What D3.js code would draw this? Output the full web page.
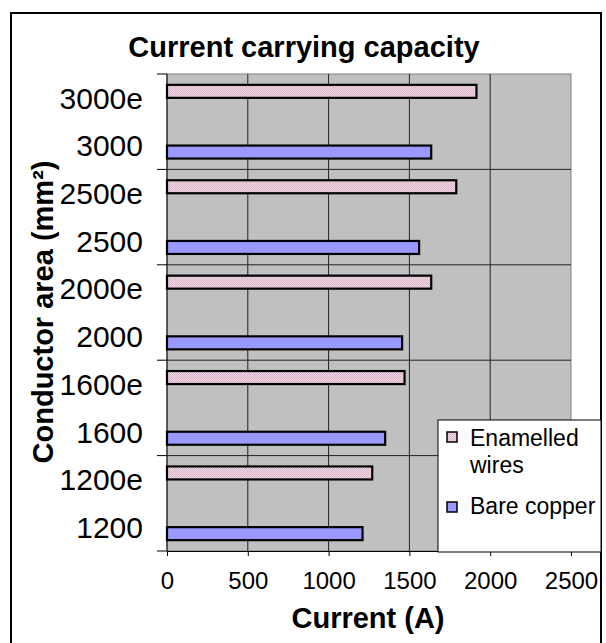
<!DOCTYPE html>
<html>
<head>
<meta charset="utf-8">
<script src="https://cdn.jsdelivr.net/npm/d3@7"></script>
<style>
  html, body { margin: 0; padding: 0; background: #fff; }
  svg { display: block; font-family: "Liberation Sans", Arial, sans-serif; }
</style>
</head>
<body>
<svg id="chart" width="606" height="643"></svg>
<script>
// Conductor sizes, bottom to top; "e" rows are enamelled-wire conductors
const categories = ["1200", "1200e", "1600", "1600e", "2000", "2000e", "2500", "2500e", "3000", "3000e"];
const bareCopper = [1210, null, 1350, null, 1455, null, 1560, null, 1635, null];
const enamelled  = [null, 1270, null, 1470, null, 1635, null, 1790, null, 1915];
const seriesNames = ["Enamelled wires", "Bare copper"];
const xTicks = [0, 500, 1000, 1500, 2000, 2500];

const svg = d3.select("#chart");
const plot = { left: 167, right: 571, top: 74, bottom: 551 };

// pink stipple fill for the enamelled bars
const defs = svg.append("defs");
const pat = defs.append("pattern").attr("id", "pinkDots")
  .attr("patternUnits", "userSpaceOnUse").attr("width", 2).attr("height", 2);
pat.append("rect").attr("width", 2).attr("height", 2).attr("fill", "#f2d9e6");
pat.append("rect").attr("width", 1).attr("height", 1).attr("fill", "#d9b3c8");
pat.append("rect").attr("x", 1).attr("y", 1).attr("width", 1).attr("height", 1).attr("fill", "#d9b3c8");

// outer chart frame
svg.append("rect").attr("x", 11).attr("y", 13).attr("width", 590).attr("height", 640)
  .attr("fill", "#fff").attr("stroke", "#000").attr("stroke-width", 2);

const x = d3.scaleLinear().domain([0, 2500]).range([plot.left, plot.right]);
const y = d3.scaleBand().domain(categories).range([plot.bottom, plot.top]);
const inner = d3.scaleBand().domain(seriesNames).range([0, y.bandwidth()]).paddingOuter(0.835);

// plot background
svg.append("rect").attr("x", plot.left).attr("y", plot.top)
  .attr("width", plot.right - plot.left).attr("height", plot.bottom - plot.top)
  .attr("fill", "#c0c0c0").attr("stroke", "#808080").attr("stroke-width", 1);

// vertical gridlines
svg.append("g").selectAll("line").data(xTicks.slice(1, -1)).join("line")
  .attr("x1", d => x(d)).attr("x2", d => x(d))
  .attr("y1", plot.top).attr("y2", plot.bottom)
  .attr("stroke", "#222").attr("stroke-width", 1);

// horizontal lines between pairs of categories
const groupEdges = categories.filter((d, i) => i % 2 === 0).map(d => y(d) + y.bandwidth());
svg.append("g").selectAll("line").data(groupEdges.filter(v => v > plot.top + 1 && v < plot.bottom - 1)).join("line")
  .attr("x1", plot.left).attr("x2", plot.right)
  .attr("y1", d => d).attr("y2", d => d)
  .attr("stroke", "#222").attr("stroke-width", 1);

// bars
const rows = categories.map((c, i) => ({ c, bare: bareCopper[i], enam: enamelled[i] }));
const barG = svg.append("g");
barG.selectAll("rect.enam").data(rows.filter(r => r.enam != null)).join("rect")
  .attr("class", "enam")
  .attr("x", x(0)).attr("y", d => y(d.c) + inner(seriesNames[0]))
  .attr("width", d => x(d.enam) - x(0)).attr("height", inner.bandwidth())
  .attr("fill", "url(#pinkDots)").attr("stroke", "#000").attr("stroke-width", 2.2);
barG.selectAll("rect.bare").data(rows.filter(r => r.bare != null)).join("rect")
  .attr("class", "bare")
  .attr("x", x(0)).attr("y", d => y(d.c) + inner(seriesNames[1]))
  .attr("width", d => x(d.bare) - x(0)).attr("height", inner.bandwidth())
  .attr("fill", "#9999ff").attr("stroke", "#000").attr("stroke-width", 2.2);

// category axis
const yAxisG = svg.append("g");
yAxisG.append("line").attr("x1", plot.left).attr("x2", plot.left)
  .attr("y1", plot.top).attr("y2", plot.bottom).attr("stroke", "#000");
const tickYs = [plot.top].concat(groupEdges);
yAxisG.selectAll("line.tk").data(tickYs).join("line").attr("class", "tk")
  .attr("x1", plot.left - 10).attr("x2", plot.left)
  .attr("y1", d => d).attr("y2", d => d).attr("stroke", "#000");
yAxisG.selectAll("text").data(categories).join("text")
  .attr("x", 143).attr("y", d => y(d) + y.bandwidth() / 2)
  .attr("dy", "0.36em").attr("text-anchor", "end")
  .attr("font-size", 30).attr("fill", "#000").text(d => d);

// value axis
const xAxis = d3.axisBottom(x).tickValues(xTicks).tickFormat(d3.format("d"))
  .tickSize(5).tickPadding(16).tickSizeOuter(0);
const xAxisG = svg.append("g").attr("transform", `translate(0,${plot.bottom})`).call(xAxis);
xAxisG.select(".domain").attr("stroke", "#000");
xAxisG.selectAll(".tick line").attr("stroke", "#000");
xAxisG.selectAll(".tick text").attr("font-size", 24).attr("fill", "#000")
  .attr("font-family", "'Liberation Sans', Arial, sans-serif");

// titles
svg.append("text").attr("x", 304).attr("y", 57).attr("text-anchor", "middle")
  .attr("font-size", 29).attr("font-weight", "bold").text("Current carrying capacity");
svg.append("text").attr("x", 368).attr("y", 628).attr("text-anchor", "middle")
  .attr("font-size", 29).attr("font-weight", "bold").text("Current (A)");
svg.append("text").attr("transform", "translate(53,312) rotate(-90)")
  .attr("text-anchor", "middle").attr("font-size", 29).attr("font-weight", "bold")
  .text("Conductor area (mm²)");

// legend
const lg = svg.append("g");
lg.append("rect").attr("x", 438).attr("y", 420).attr("width", 163).attr("height", 132)
  .attr("fill", "#fff").attr("stroke", "#000").attr("stroke-width", 1);
lg.append("rect").attr("x", 447).attr("y", 432).attr("width", 10).attr("height", 10)
  .attr("fill", "url(#pinkDots)").attr("stroke", "#000").attr("stroke-width", 1.5);
lg.append("text").attr("x", 470).attr("y", 446).attr("font-size", 23).text("Enamelled");
lg.append("text").attr("x", 470).attr("y", 473).attr("font-size", 23).text("wires");
lg.append("rect").attr("x", 447).attr("y", 502).attr("width", 10).attr("height", 10)
  .attr("fill", "#9999ff").attr("stroke", "#000").attr("stroke-width", 1.5);
lg.append("text").attr("x", 470).attr("y", 514).attr("font-size", 23).text("Bare copper");
</script>
</body>
</html>
